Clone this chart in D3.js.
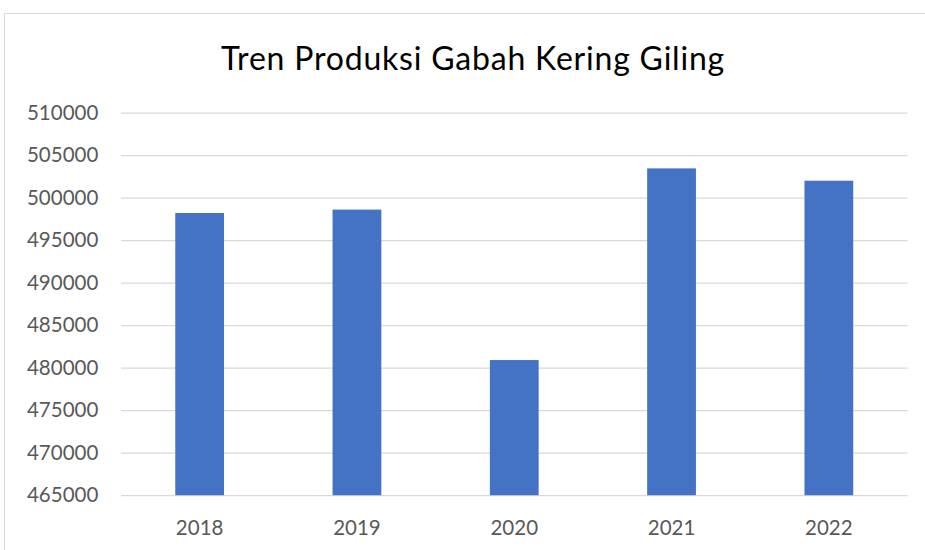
<!DOCTYPE html>
<html>
<head>
<meta charset="utf-8">
<script src="https://cdn.jsdelivr.net/npm/d3@7"></script>
<style>
  body { margin: 0; background: #fff; }
  text { font-family: Lato, "Open Sans", sans-serif; }
</style>
</head>
<body>
<svg class="svg_chart" width="925" height="550"></svg>
<script>
// data
var years = ["2018", "2019", "2020", "2021", "2022"];
var production = [498200, 498600, 480900, 503450, 502000];
var yTicks = [465000, 470000, 475000, 480000, 485000, 490000, 495000, 500000, 505000, 510000];

var svg = d3.select(".svg_chart"),
    margin = {top: 112.7, right: 17.5, bottom: 54.8, left: 121},
    width = +svg.attr("width") - margin.left - margin.right,
    height = +svg.attr("height") - margin.top - margin.bottom;

// chart area border (only top and left visible in the crop)
svg.append("path")
    .attr("d", "M4.5,550 V13.5 H925")
    .attr("fill", "none")
    .attr("stroke", "#d9d9d9")
    .attr("stroke-width", 1);

svg.append("text")
    .attr("x", 473)
    .attr("y", 69.5)
    .attr("text-anchor", "middle")
    .attr("fill", "#000")
    .style("font-size", "32px")
    .style("letter-spacing", "0.8px")
    .text("Tren Produksi Gabah Kering Giling");

var g = svg.append("g").attr("transform", "translate(" + margin.left + "," + margin.top + ")");

var x = d3.scaleBand().domain(years).range([0, width]).paddingInner(0.69).paddingOuter(0.345),
    y = d3.scaleLinear().domain([465000, 510000]).range([height, 0]);

// gridlines
g.append("g")
    .attr("class", "grid")
    .call(d3.axisLeft(y).tickValues(yTicks).tickSize(-width).tickFormat(""))
    .call(function(s) {
      s.select(".domain").remove();
      s.selectAll("line").attr("stroke", "#d9d9d9").attr("stroke-width", 1.3);
    });

// y labels
g.append("g")
    .call(d3.axisLeft(y).tickValues(yTicks).tickSize(0).tickPadding(22.7).tickFormat(d3.format("d")))
    .call(function(s) {
      s.select(".domain").remove();
      s.selectAll("text").attr("fill", "#595959").style("font-size", "20.5px");
    });

g.selectAll(".bar")
  .data(production)
  .enter().append("rect")
    .attr("class", "bar")
    .attr("x", function(d, i) { return x(years[i]); })
    .attr("y", function(d) { return y(d); })
    .attr("width", x.bandwidth())
    .attr("height", function(d) { return height - y(d); })
    .attr("fill", "#4472c4");

// x labels
g.append("g")
    .attr("transform", "translate(0," + height + ")")
    .call(d3.axisBottom(x).tickSize(0).tickPadding(25.2))
    .call(function(s) {
      s.select(".domain").remove();
      s.selectAll("text").attr("fill", "#595959").style("font-size", "20.5px");
    });
</script>
</body>
</html>
